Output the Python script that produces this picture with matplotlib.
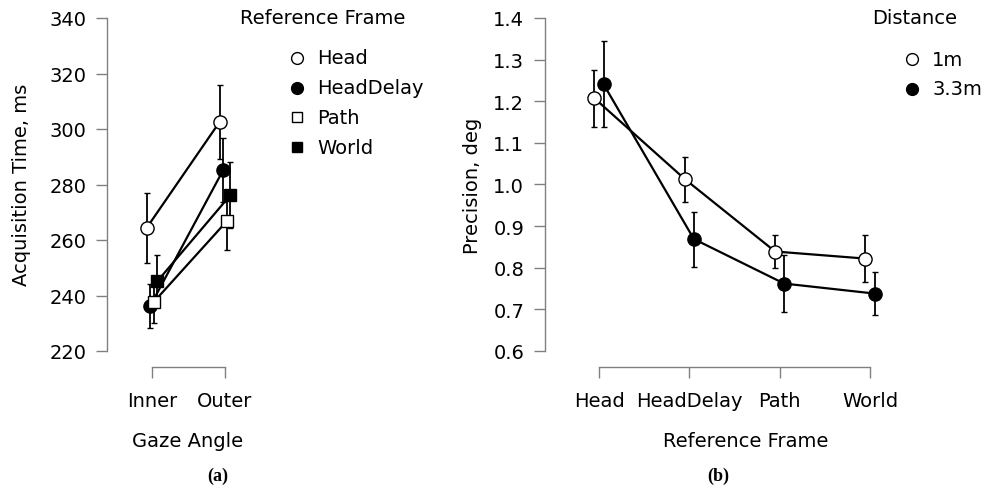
import numpy as np
import matplotlib.pyplot as plt

plt.rcParams['font.family'] = ['DejaVu Sans']

# (a) acquisition time by gaze angle
gaze = ["Inner", "Outer"]
frames = ["Head", "HeadDelay", "Path", "World"]
acq_mean = {"Head": [264.3, 302.5], "HeadDelay": [236.2, 285.2],
            "Path": [237.7, 266.8], "World": [245.2, 276.2]}
acq_err = {"Head": [12.5, 13.3], "HeadDelay": [8.0, 11.5],
           "Path": [7.5, 10.3], "World": [9.5, 12.0]}

# (b) precision by reference frame
dist = ["1m", "3.3m"]
prec_mean = {"1m": [1.207, 1.013, 0.839, 0.822], "3.3m": [1.241, 0.869, 0.762, 0.738]}
prec_err = {"1m": [0.068, 0.054, 0.039, 0.057], "3.3m": [0.103, 0.066, 0.069, 0.051]}

W, H = 984, 502
fig = plt.figure(figsize=(W / 100, H / 100), dpi=100)

def px_axes(left, right, top, bottom):
    return fig.add_axes([left / W, 1 - bottom / H, (right - left) / W, (bottom - top) / H])

spine_c = "#808080"
fs = 14

def style(ax, ylo, yhi, nx):
    for s in ["top", "right"]:
        ax.spines[s].set_visible(False)
    ax.spines["left"].set_bounds(ylo, yhi)
    ax.spines["bottom"].set_bounds(0, nx - 1)
    for s in ["left", "bottom"]:
        ax.spines[s].set_color(spine_c)
        ax.spines[s].set_linewidth(1.0)
    ax.tick_params(axis="both", length=8, width=1.0, color=spine_c, labelsize=fs)
    ax.tick_params(axis="y", pad=7)
    ax.tick_params(axis="x", pad=9)

markers = {"Head": ("o", "white"), "HeadDelay": ("o", "black"),
           "Path": ("s", "white"), "World": ("s", "black")}

# ---- panel (a)
ax1 = px_axes(107, 260, 10, 368)
ax1.set_xlim((107 - 152) / 73, (260 - 152) / 73)
ax1.set_ylim(220 - 16 / 2.775, 340 + 9 / 2.775)
offs = [-0.075, -0.025, 0.025, 0.075]
x = np.arange(len(gaze))
for f, o in zip(frames, offs):
    m, fc = markers[f]
    ax1.errorbar(x + o, acq_mean[f], yerr=acq_err[f], color="black", lw=1.6,
                 elinewidth=1.3, capsize=2.5, capthick=1.3, marker=m, mfc=fc,
                 mec="black", mew=1.0, ms=9.5 if m == "o" else 8.5, clip_on=False)
ax1.set_xticks(x, gaze)
ax1.set_yticks(np.arange(220, 341, 20))
style(ax1, 220, 340, 2)

# ---- panel (b)
ax2 = px_axes(545, 900, 10, 368)
ax2.set_xlim((545 - 599) / 90.33, (900 - 599) / 90.33)
ax2.set_ylim(0.6 - 16 / 416.25, 1.4 + 9 / 416.25)
x = np.arange(len(frames))
for d, o, fc in zip(dist, [-0.05, 0.05], ["white", "black"]):
    ax2.errorbar(x + o, prec_mean[d], yerr=prec_err[d], color="black", lw=1.6,
                 elinewidth=1.3, capsize=2.5, capthick=1.3, marker="o", mfc=fc,
                 mec="black", mew=1.0, ms=9.5, clip_on=False)
ax2.set_xticks(x, frames)
ax2.set_yticks(np.round(np.arange(0.6, 1.41, 0.1), 1))
ax2.set_yticklabels([f"{v:.1f}" for v in np.arange(0.6, 1.41, 0.1)])
style(ax2, 0.6, 1.4, 4)

# axis titles
fig.text(22 / W, 1 - 185 / H, "Acquisition Time, ms", rotation=90, ha="center", va="center", fontsize=fs)
fig.text(472 / W, 1 - 186 / H, "Precision, deg", rotation=90, ha="center", va="center", fontsize=fs)
fig.text(188 / W, 1 - 442 / H, "Gaze Angle", ha="center", va="center", fontsize=fs)
fig.text(746 / W, 1 - 442 / H, "Reference Frame", ha="center", va="center", fontsize=fs)
fig.text(218 / W, 1 - 476 / H, "(a)", ha="center", va="center", fontsize=13,
         fontweight="bold", family="Liberation Serif")
fig.text(718 / W, 1 - 476 / H, "(b)", ha="center", va="center", fontsize=13,
         fontweight="bold", family="Liberation Serif")

# legends
def legend(title, tx, mx, labels, styles, y0):
    fig.text(tx / W, 1 - 19 / H, title, ha="left", va="center", fontsize=fs)
    for i, (lab, (m, fc)) in enumerate(zip(labels, styles)):
        y = 1 - (y0 + i * 29.7) / H
        fig.add_artist(plt.Line2D([mx / W], [y], marker=m, mfc=fc, mec="black", mew=1.0,
                                  ms=8.5 if m == "o" else 7.5, ls="none",
                                  transform=fig.transFigure))
        fig.text((mx + 20) / W, y, lab, ha="left", va="center", fontsize=fs)

legend("Reference Frame", 240, 297, frames, [markers[f] for f in frames], 59)
legend("Distance", 872, 912, dist, [("o", "white"), ("o", "black")], 60)

fig.savefig("out.png", dpi=100)
